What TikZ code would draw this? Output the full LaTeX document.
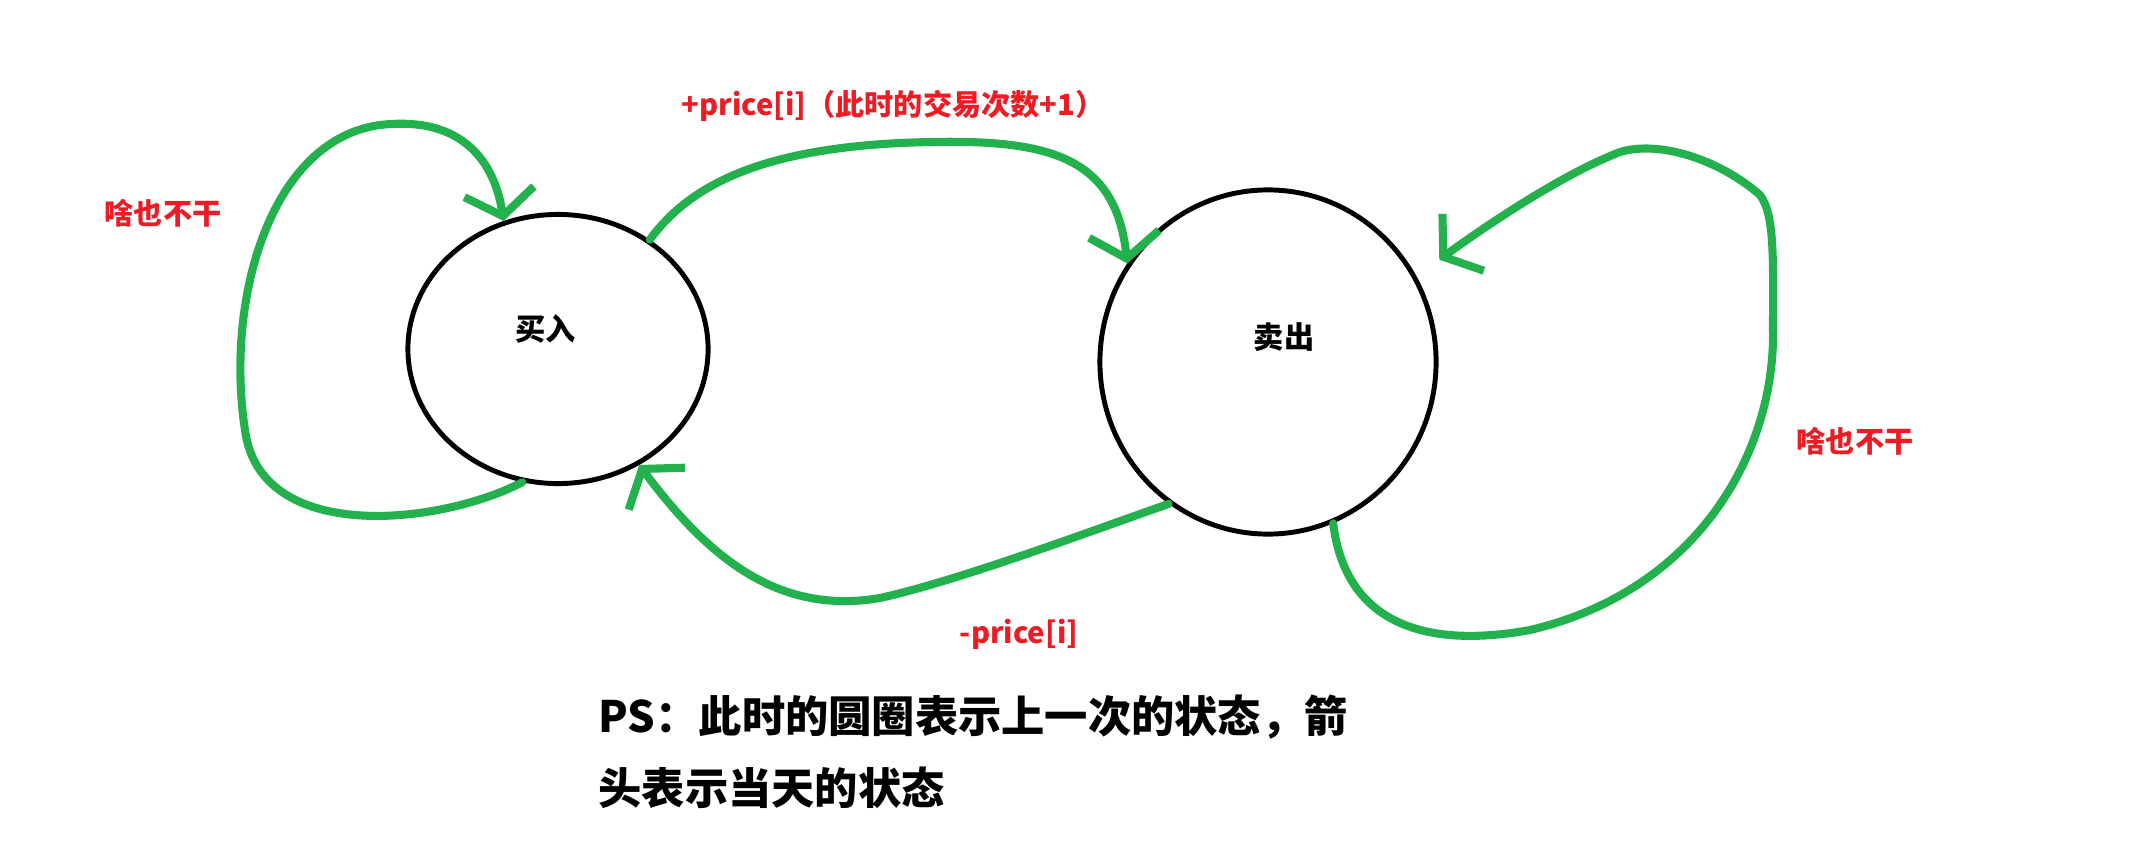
\documentclass[tikz,border=0pt]{standalone}
\usepackage{fontspec}
\setmainfont{Noto Sans CJK SC}
\usepackage{xcolor}
\definecolor{pgreen}{RGB}{34,177,76}
\definecolor{pred}{RGB}{237,28,36}
\usetikzlibrary{arrows.meta, shapes.geometric}
\tikzset{
  state/.style={ellipse, draw=black, line width=1.4pt, inner sep=0pt},
  statetxt/.style={font=\fontsize{8.6}{10}\selectfont\bfseries},
  move/.style={draw=pgreen, line width=2.3pt, line cap=round, line join=round,
    -{Straight Barb[length=7pt,width=20pt]}},
  redlbl/.style={text=pred, font=\fontsize{8.3}{10}\selectfont\bfseries},
}

\begin{document}
\begin{tikzpicture}[x=0.01cm, y=-0.01cm]
      \useasboundingbox (0,0) rectangle (2130,851);
      % states
      \node[state, minimum width=3cm, minimum height=2.69cm,
        label={[statetxt, xshift=-0.12cm, yshift=0.2cm]center:买入}] (buy) at (558,349) {};
      \node[state, minimum width=3.36cm, minimum height=3.44cm,
        label={[statetxt, xshift=0.16cm, yshift=0.25cm]center:卖出}] (sell) at (1268,362) {};
      % do nothing (buy)
      \draw[move] (buy.-105) .. controls (440,525) and (260,545) .. (245,430)
        .. controls (225,300) and (270,140) .. (380,125)
        .. controls (465,115) and (495,165) .. (buy.113);
      % buy -> sell
      \draw[move] (buy.50) .. controls (690,185) and (760,150) .. (900,143)
        .. controls (1040,137) and (1115,150) .. (sell.145);
      % sell -> buy
      \draw[move] (sell.-125) .. controls (1080,535) and (960,580) .. (880,598)
        .. controls (780,615) and (710,560) .. (buy.-55);
      % do nothing (sell)
      \draw[move, shorten >=8pt] (sell.-68) .. controls (1345,620) and (1420,650) .. (1530,630)
        .. controls (1700,590) and (1775,450) .. (1773,330)
        .. controls (1773,260) and (1775,215) .. (1760,195)
        .. controls (1720,160) and (1660,140) .. (1620,152)
        .. controls (1560,175) and (1480,230) .. (sell.30);
      % labels
      \node[redlbl] (idleA) at (163,213) {啥也不干};
      \node[redlbl] (gain) at (893,106) {+price[i]（此时的交易次数+1）};
      \node[redlbl] (cost) at (1019,634) {-price[i]};
      \node[redlbl] (idleB) at (1855,441) {啥也不干};
      % note
      \node[anchor=west, align=left, inner sep=0pt,
        font=\fontsize{12.3}{20.5}\selectfont\bfseries] (note) at (598,752)
        {PS：此时的圆圈表示上一次的状态，箭\\头表示当天的状态};
\end{tikzpicture}
\end{document}
